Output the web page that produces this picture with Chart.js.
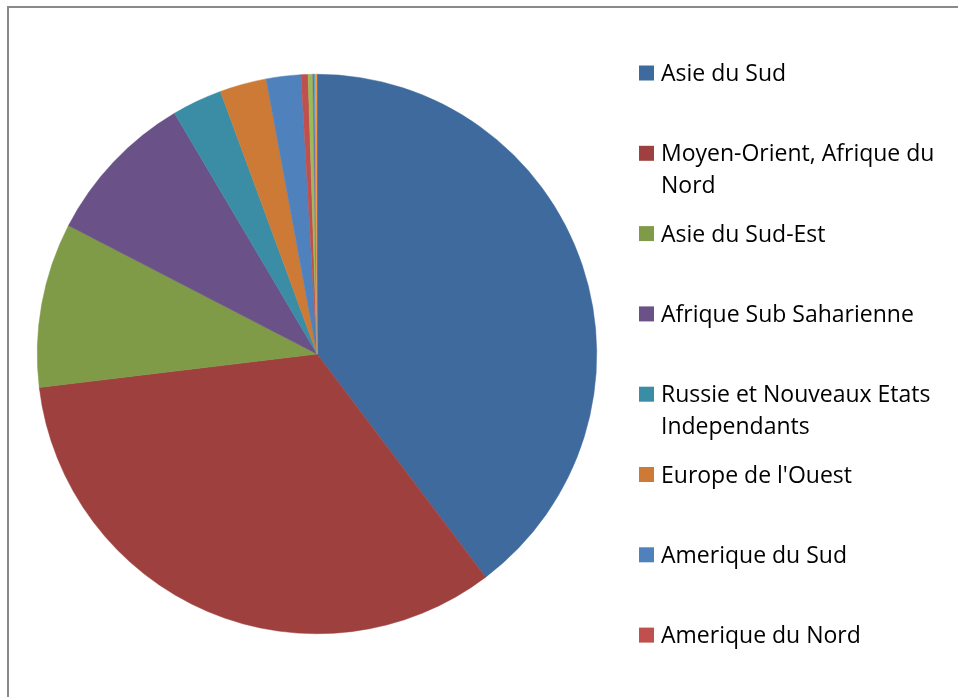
<!DOCTYPE html>
<html>
<head>
<meta charset="utf-8">
<script src="https://cdn.jsdelivr.net/npm/chart.js@4.4.0/dist/chart.umd.min.js"></script>
<style>
  html, body { margin: 0; padding: 0; background: #fff; }
  #wrap { position: relative; width: 958px; height: 697px; overflow: hidden; }
  #frame { position: absolute; left: 7px; top: 6px; width: 1200px; height: 1200px;
           border-left: 2px solid #8a8a8a; border-top: 2px solid #8a8a8a; }
  canvas { position: absolute; left: 0; top: 0; }
</style>
</head>
<body>
<div id="wrap">
  <div id="frame"></div>
  <canvas id="chart" width="958" height="697"></canvas>
</div>
<script>
// Regions (the last few slices are too small to appear in the legend)
const regions = [
  'Asie du Sud',
  'Moyen-Orient, Afrique du Nord',
  'Asie du Sud-Est',
  'Afrique Sub Saharienne',
  'Russie et Nouveaux Etats Independants',
  "Europe de l'Ouest",
  'Amerique du Sud',
  'Amerique du Nord',
  'Europe Centrale et de l\'Est',
  'Amerique Centrale',
  'Oceanie',
  'Asie de l\'Est'
]
const shares = [39.7, 33.4, 9.5, 8.9, 2.9, 2.7, 2.0, 0.4, 0.27, 0.09, 0.06, 0.09]
const sliceColors = [
  '#3f6a9e', '#9e413e', '#7f9b48', '#6a5187', '#3a8da5', '#cc7a35',
  '#4f81bd', '#c0504d', '#9bbb59', '#8064a2', '#4bacc6', '#f79646'
]
const legendCount = 8

const legendFont = '23px "Open Sans"'

const sideLegend = {
  id: 'sideLegend',
  afterDraw(chart) {
    const ctx = chart.ctx
    const labels = chart.data.labels
    const colors = chart.data.datasets[0].backgroundColor
    ctx.save()
    ctx.font = legendFont
    ctx.fillStyle = '#000'
    ctx.textBaseline = 'alphabetic'
    for (let i = 0; i < legendCount; i++) {
      const yc = 73 + i * 80.3
      ctx.fillStyle = colors[i]
      ctx.fillRect(639, yc - 7.5, 15, 15)
      ctx.fillStyle = '#000'
      // wrap the label
      const words = labels[i].split(' ')
      const lines = []
      let line = ''
      words.forEach(w => {
        const test = line ? line + ' ' + w : w
        if (ctx.measureText(test).width > 288 && line) {
          lines.push(line)
          line = w
        } else {
          line = test
        }
      })
      lines.push(line)
      lines.forEach((l, k) => ctx.fillText(l, 661, yc + 8 + k * 32))
    }
    ctx.restore()
  }
}

new Chart(document.getElementById('chart'), {
  type: 'pie',
  data: {
    labels: regions,
    datasets: [{
      data: shares,
      backgroundColor: sliceColors,
      borderColor: sliceColors,
      borderWidth: 0.5
    }]
  },
  options: {
    responsive: false,
    animation: false,
    layout: { padding: { left: 37, top: 74, right: 361, bottom: 63 } },
    plugins: {
      legend: { display: false },
      tooltip: { enabled: false }
    }
  },
  plugins: [sideLegend]
})
</script>
</body>
</html>
